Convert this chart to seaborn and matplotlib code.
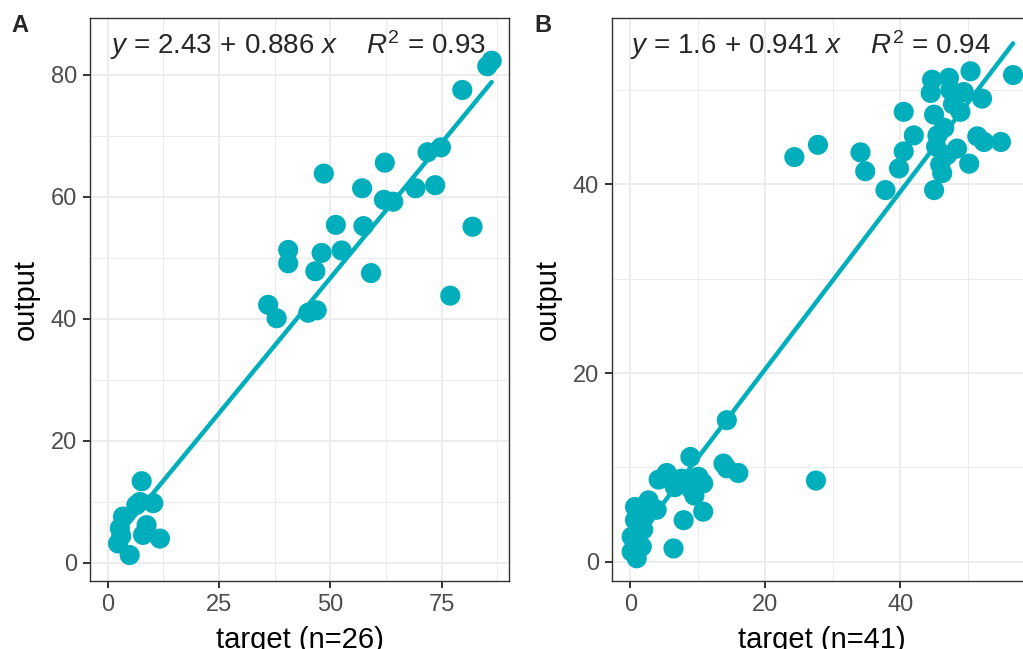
import numpy as np
import pandas as pd
import matplotlib
matplotlib.use("Agg")
import matplotlib.pyplot as plt
import seaborn as sns

# panel A
target_a = [85.2, 86.2, 79.6, 48.5, 62.2, 71.8, 74.8, 57.1, 62.0, 64.1, 69.1, 73.5,
            51.2, 57.4, 81.9, 40.5, 40.5, 48.0, 52.5, 46.6, 59.1, 76.9, 36.0, 37.9,
            45.0, 46.9,
            7.6, 7.2, 10.2, 3.4, 2.7, 8.7, 7.9, 11.7, 2.3, 4.9, 3.0, 6.4]
output_a = [81.4, 82.3, 77.5, 63.8, 65.6, 67.3, 68.1, 61.4, 59.5, 59.2, 61.4, 61.9,
            55.4, 55.2, 55.1, 51.3, 49.1, 50.8, 51.2, 47.8, 47.5, 43.8, 42.3, 40.1,
            41.0, 41.4,
            13.4, 10.0, 9.8, 7.6, 5.7, 6.2, 4.6, 4.0, 3.2, 1.3, 4.4, 9.5]
coef_a = (2.43, 0.886)
r2_a = 0.93
n_a = 26

# panel B
target_b = [56.7, 44.7, 47.2, 50.4, 44.5, 47.4, 49.4, 52.1, 45.0, 48.9, 40.5, 42.0,
            45.5, 51.4, 54.9, 52.4, 40.5, 48.4, 46.9, 50.2, 45.9, 39.8, 46.2, 45.0,
            37.8, 34.1, 34.8, 27.8, 24.3, 45.3, 46.5, 47.8,
            14.3, 8.9, 13.8, 14.3, 16.0, 27.5, 4.2, 5.4, 7.6, 10.1, 10.8, 9.1, 9.5,
            2.7, 0.7, 3.9, 0.7, 1.9, 0.2, 1.7, 0.2, 0.95, 7.9, 10.8, 6.4, 6.6, 1.2, 2.2]
output_b = [51.6, 51.1, 51.3, 52.0, 49.7, 50.0, 49.8, 49.1, 47.4, 47.7, 47.7, 45.2,
            45.2, 45.1, 44.5, 44.5, 43.5, 43.8, 43.1, 42.2, 42.1, 41.7, 41.2, 39.4,
            39.4, 43.4, 41.4, 44.2, 42.9, 44.0, 46.0, 48.5,
            15.0, 11.1, 10.4, 9.9, 9.4, 8.6, 8.7, 9.4, 8.8, 9.0, 8.3, 7.6, 7.0,
            6.5, 5.8, 5.5, 4.4, 3.4, 2.65, 1.6, 1.06, 0.36, 4.4, 5.3, 1.4, 7.9, 3.8, 4.8]
coef_b = (1.6, 0.941)
r2_b = 0.94
n_b = 41

teal = "#00AFBB"

sns.set_theme(style="white")
plt.rcParams["font.family"] = ["Liberation Sans", "DejaVu Sans"]
plt.rcParams["mathtext.fontset"] = "custom"
plt.rcParams["mathtext.rm"] = "Liberation Sans"
plt.rcParams["mathtext.it"] = "Liberation Sans:italic"

fig = plt.figure(figsize=(10.23, 6.49), dpi=100)
ax_a = fig.add_axes([0.088, 0.1048, 0.4096, 0.8675])
ax_b = fig.add_axes([0.5985, 0.1048, 0.4096, 0.8675])


def panel(ax, x, y, coef, r2, n, xlim, ylim, xmaj, xmin, ymaj, ymin, tx):
    df = pd.DataFrame({"target": x, "output": y})
    xs = np.array([df.target.min(), df.target.max()])
    line = pd.DataFrame({"target": xs, "output": coef[0] + coef[1] * xs})
    sns.lineplot(data=line, x="target", y="output", color=teal, lw=3.2, ax=ax, zorder=3)
    sns.scatterplot(data=df, x="target", y="output", color=teal, s=210,
                    edgecolor="none", alpha=1, ax=ax, zorder=4)
    ax.set_xlim(*xlim)
    ax.set_ylim(*ylim)
    ax.set_xticks(xmaj)
    ax.set_xticks(xmin, minor=True)
    ax.set_yticks(ymaj)
    ax.set_yticks(ymin, minor=True)
    ax.grid(True, which="major", color="#EBEBEB", lw=1.3, zorder=0)
    ax.grid(True, which="minor", color="#EBEBEB", lw=0.7, zorder=0)
    ax.set_axisbelow(True)
    for s in ax.spines.values():
        s.set_color("#333333")
        s.set_linewidth(1.0)
    ax.tick_params(which="major", length=5, width=1.4, color="#333333",
                   labelsize=17, labelcolor="#4D4D4D", left=True, bottom=True, pad=4.5)
    ax.tick_params(which="minor", length=0)
    ax.set_xlabel(f"target (n={n})", fontsize=21, color="black", labelpad=7)
    ax.set_ylabel("output", fontsize=21, color="black", labelpad=8)
    ax.text(tx, ylim[1] - (ylim[1] - ylim[0]) * 0.048,
            rf"$y$ = {coef[0]:g}$\,+\,${coef[1]:g} $x$    $R^2$ = {r2:.2f}",
            fontsize=20, ha="left", va="center", zorder=5)


panel(ax_a, target_a, output_a, coef_a, r2_a, n_a,
      (-4.0, 90.1), (-2.95, 89.3), [0, 25, 50, 75], [12.5, 37.5, 62.5, 87.5],
      [0, 20, 40, 60, 80], [10, 30, 50, 70], 0.5)
panel(ax_b, target_b, output_b, coef_b, r2_b, n_b,
      (-2.67, 59.4), (-2.05, 57.65), [0, 20, 40], [10, 30, 50],
      [0, 20, 40], [10, 30, 50], 0.0)

fig.text(20 / 1023, 1 - 25 / 649, "A", fontsize=17, fontweight="bold", ha="center", va="center")
fig.text(543 / 1023, 1 - 25 / 649, "B", fontsize=17, fontweight="bold", ha="center", va="center")

fig.savefig("out.png", dpi=100)
